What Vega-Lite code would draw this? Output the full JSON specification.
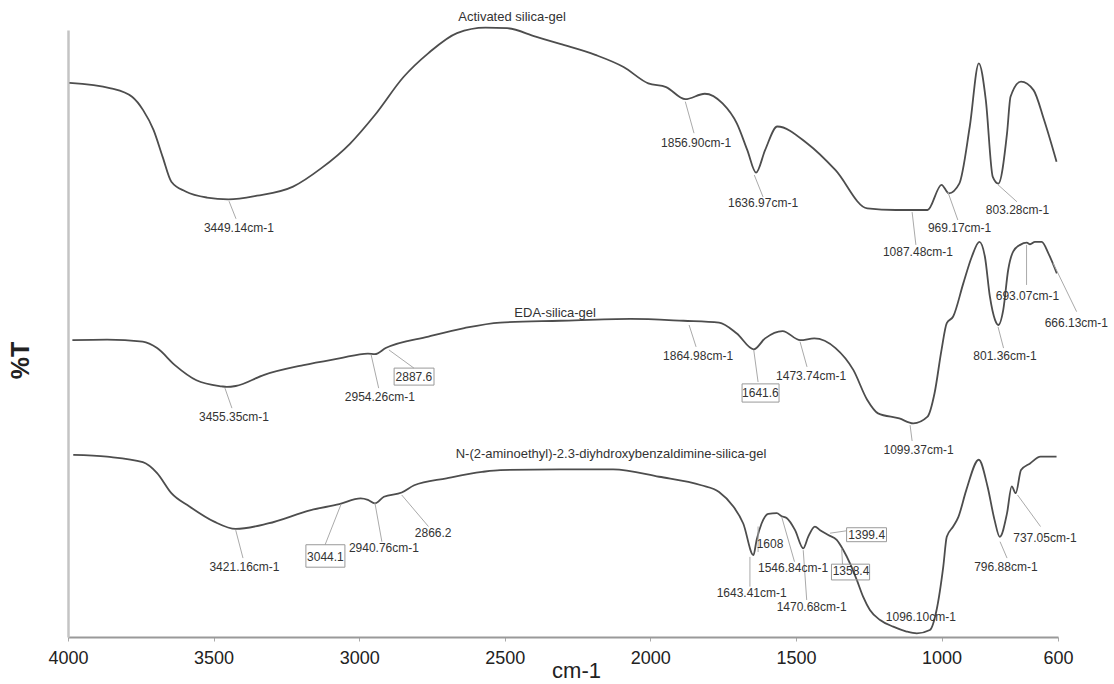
{
  "$schema": "https://vega.github.io/schema/vega-lite/v6.json",
  "width": 990,
  "height": 607,
  "autosize": "none",
  "padding": {"left": 68, "top": 30, "right": 56, "bottom": 47},
  "background": "white",
  "config": {"view": {"stroke": null}, "font": "Liberation Sans"},
  "datasets": {
    "spectra": [
      {"s":"a","wn":3995,"t":91.3},{"s":"a","wn":3853,"t":90.4},{"s":"a","wn":3780,"t":89.0},{"s":"a","wn":3742,"t":86.8},{"s":"a","wn":3706,"t":83.5},{"s":"a","wn":3675,"t":79.1},{"s":"a","wn":3645,"t":75.0},{"s":"a","wn":3596,"t":73.4},{"s":"a","wn":3523,"t":72.4},{"s":"a","wn":3449,"t":72.1},{"s":"a","wn":3351,"t":72.7},{"s":"a","wn":3227,"t":74.2},{"s":"a","wn":3131,"t":77.2},{"s":"a","wn":3031,"t":81.3},{"s":"a","wn":2946,"t":86.0},{"s":"a","wn":2847,"t":92.3},{"s":"a","wn":2762,"t":96.2},{"s":"a","wn":2664,"t":99.5},{"s":"a","wn":2566,"t":100.4},{"s":"a","wn":2492,"t":100.3},{"s":"a","wn":2394,"t":98.9},{"s":"a","wn":2310,"t":97.7},{"s":"a","wn":2189,"t":95.9},{"s":"a","wn":2092,"t":93.9},{"s":"a","wn":2007,"t":91.2},{"s":"a","wn":1946,"t":90.6},{"s":"a","wn":1880,"t":88.6},{"s":"a","wn":1813,"t":89.5},{"s":"a","wn":1752,"t":87.9},{"s":"a","wn":1703,"t":84.6},{"s":"a","wn":1667,"t":80.2},{"s":"a","wn":1637,"t":76.5},{"s":"a","wn":1606,"t":80.2},{"s":"a","wn":1564,"t":84.1},{"s":"a","wn":1461,"t":81.3},{"s":"a","wn":1364,"t":76.9},{"s":"a","wn":1255,"t":70.6},{"s":"a","wn":1157,"t":70.35},{"s":"a","wn":1048,"t":70.35},{"s":"a","wn":1000,"t":74.5},{"s":"a","wn":975,"t":73.1},{"s":"a","wn":939,"t":74.7},{"s":"a","wn":903,"t":84.1},{"s":"a","wn":872,"t":94.5},{"s":"a","wn":848,"t":88.5},{"s":"a","wn":824,"t":75.8},{"s":"a","wn":805,"t":74.7},{"s":"a","wn":775,"t":83.0},{"s":"a","wn":763,"t":89.0},{"s":"a","wn":727,"t":91.5},{"s":"a","wn":684,"t":90.1},{"s":"a","wn":648,"t":85.2},{"s":"a","wn":605,"t":78.3},
      {"s":"b","wn":3985,"t":48.9},{"s":"b","wn":3866,"t":49.0},{"s":"b","wn":3743,"t":48.65},{"s":"b","wn":3694,"t":47.6},{"s":"b","wn":3633,"t":44.8},{"s":"b","wn":3559,"t":42.3},{"s":"b","wn":3473,"t":41.3},{"s":"b","wn":3455,"t":41.2},{"s":"b","wn":3424,"t":41.35},{"s":"b","wn":3326,"t":43.2},{"s":"b","wn":3191,"t":44.8},{"s":"b","wn":3068,"t":45.9},{"s":"b","wn":2970,"t":46.7},{"s":"b","wn":2946,"t":46.6},{"s":"b","wn":2909,"t":47.6},{"s":"b","wn":2762,"t":49.5},{"s":"b","wn":2639,"t":50.9},{"s":"b","wn":2516,"t":51.8},{"s":"b","wn":2310,"t":52.1},{"s":"b","wn":2068,"t":52.4},{"s":"b","wn":1886,"t":52.1},{"s":"b","wn":1764,"t":51.8},{"s":"b","wn":1703,"t":50.0},{"s":"b","wn":1645,"t":47.4},{"s":"b","wn":1606,"t":49.2},{"s":"b","wn":1546,"t":50.4},{"s":"b","wn":1485,"t":48.9},{"s":"b","wn":1437,"t":49.2},{"s":"b","wn":1364,"t":47.6},{"s":"b","wn":1303,"t":44.0},{"s":"b","wn":1255,"t":39.05},{"s":"b","wn":1218,"t":36.85},{"s":"b","wn":1145,"t":36.0},{"s":"b","wn":1097,"t":35.2},{"s":"b","wn":1048,"t":36.3},{"s":"b","wn":1024,"t":40.15},{"s":"b","wn":1000,"t":47.3},{"s":"b","wn":982,"t":51.7},{"s":"b","wn":960,"t":52.8},{"s":"b","wn":925,"t":58.3},{"s":"b","wn":896,"t":62.65},{"s":"b","wn":870,"t":65.1},{"s":"b","wn":851,"t":62.65},{"s":"b","wn":834,"t":56.1},{"s":"b","wn":816,"t":52.2},{"s":"b","wn":805,"t":51.4},{"s":"b","wn":788,"t":53.9},{"s":"b","wn":771,"t":60.5},{"s":"b","wn":754,"t":63.5},{"s":"b","wn":730,"t":64.6},{"s":"b","wn":707,"t":64.96},{"s":"b","wn":696,"t":64.7},{"s":"b","wn":679,"t":65.1},{"s":"b","wn":656,"t":65.1},{"s":"b","wn":633,"t":63.2},{"s":"b","wn":604,"t":59.9},
      {"s":"c","wn":3982,"t":30.0},{"s":"c","wn":3866,"t":29.7},{"s":"c","wn":3743,"t":28.8},{"s":"c","wn":3694,"t":27.0},{"s":"c","wn":3645,"t":23.7},{"s":"c","wn":3583,"t":21.5},{"s":"c","wn":3498,"t":19.0},{"s":"c","wn":3424,"t":17.8},{"s":"c","wn":3313,"t":18.7},{"s":"c","wn":3166,"t":20.9},{"s":"c","wn":3068,"t":21.9},{"s":"c","wn":2995,"t":22.85},{"s":"c","wn":2970,"t":22.6},{"s":"c","wn":2946,"t":22.0},{"s":"c","wn":2915,"t":23.1},{"s":"c","wn":2854,"t":23.8},{"s":"c","wn":2811,"t":25.0},{"s":"c","wn":2700,"t":26.15},{"s":"c","wn":2578,"t":27.2},{"s":"c","wn":2516,"t":27.5},{"s":"c","wn":2310,"t":27.6},{"s":"c","wn":2128,"t":27.6},{"s":"c","wn":1970,"t":26.4},{"s":"c","wn":1825,"t":25.0},{"s":"c","wn":1764,"t":23.9},{"s":"c","wn":1715,"t":21.5},{"s":"c","wn":1681,"t":18.7},{"s":"c","wn":1646,"t":13.5},{"s":"c","wn":1635,"t":16.0},{"s":"c","wn":1618,"t":18.7},{"s":"c","wn":1595,"t":20.3},{"s":"c","wn":1566,"t":20.4},{"s":"c","wn":1549,"t":19.9},{"s":"c","wn":1532,"t":19.6},{"s":"c","wn":1503,"t":17.6},{"s":"c","wn":1475,"t":14.6},{"s":"c","wn":1458,"t":16.5},{"s":"c","wn":1435,"t":18.2},{"s":"c","wn":1417,"t":17.6},{"s":"c","wn":1389,"t":16.8},{"s":"c","wn":1360,"t":16.0},{"s":"c","wn":1337,"t":14.3},{"s":"c","wn":1314,"t":12.1},{"s":"c","wn":1291,"t":9.4},{"s":"c","wn":1269,"t":6.6},{"s":"c","wn":1246,"t":4.45},{"s":"c","wn":1211,"t":2.8},{"s":"c","wn":1166,"t":1.7},{"s":"c","wn":1120,"t":0.9},{"s":"c","wn":1085,"t":0.6},{"s":"c","wn":1040,"t":1.15},{"s":"c","wn":1017,"t":4.45},{"s":"c","wn":994,"t":11.6},{"s":"c","wn":982,"t":16.5},{"s":"c","wn":960,"t":18.2},{"s":"c","wn":942,"t":19.8},{"s":"c","wn":915,"t":24.2},{"s":"c","wn":872,"t":29.2},{"s":"c","wn":842,"t":24.8},{"s":"c","wn":818,"t":19.3},{"s":"c","wn":800,"t":16.5},{"s":"c","wn":775,"t":20.4},{"s":"c","wn":759,"t":24.8},{"s":"c","wn":745,"t":23.7},{"s":"c","wn":727,"t":27.5},{"s":"c","wn":696,"t":28.6},{"s":"c","wn":660,"t":29.7},{"s":"c","wn":605,"t":29.7}
    ],
    "leaders": [
      {"wn":3447,"t":71.8,"wn2":3423,"t2":68.9},
      {"wn":1880,"t":88.2,"wn2":1850,"t2":83.0},
      {"wn":1643,"t":76.1,"wn2":1613,"t2":72.5},
      {"wn":1101,"t":70.0,"wn2":1088,"t2":64.6},
      {"wn":978,"t":73.3,"wn2":944,"t2":68.7},
      {"wn":806,"t":74.5,"wn2":741,"t2":71.7},
      {"wn":3461,"t":41.0,"wn2":3437,"t2":37.7},
      {"wn":2959,"t":46.5,"wn2":2933,"t2":41.0},
      {"wn":2898,"t":47.3,"wn2":2812,"t2":44.3},
      {"wn":1867,"t":51.4,"wn2":1843,"t2":47.8},
      {"wn":1645,"t":47.3,"wn2":1630,"t2":42.0},
      {"wn":1486,"t":48.65,"wn2":1462,"t2":44.5},
      {"wn":1108,"t":34.9,"wn2":1101,"t2":32.3},
      {"wn":806,"t":51.1,"wn2":787,"t2":47.6},
      {"wn":708,"t":64.6,"wn2":708,"t2":58.0},
      {"wn":617,"t":61.6,"wn2":536,"t2":53.6},
      {"wn":3424,"t":17.6,"wn2":3399,"t2":13.0},
      {"wn":3062,"t":21.9,"wn2":3117,"t2":15.2},
      {"wn":2946,"t":22.1,"wn2":2922,"t2":15.7},
      {"wn":2854,"t":23.4,"wn2":2762,"t2":18.2},
      {"wn":1658,"t":13.2,"wn2":1658,"t2":8.3},
      {"wn":1630,"t":18.2,"wn2":1630,"t2":14.0},
      {"wn":1549,"t":19.8,"wn2":1505,"t2":12.4},
      {"wn":1475,"t":14.3,"wn2":1463,"t2":6.1},
      {"wn":1383,"t":17.1,"wn2":1326,"t2":17.5},
      {"wn":1343,"t":14.6,"wn2":1340,"t2":12.0},
      {"wn":799,"t":15.7,"wn2":775,"t2":13.0},
      {"wn":739,"t":23.4,"wn2":660,"t2":18.2}
    ],
    "boxes": [
      {"wn":2880,"t":44.3,"wn2":2743,"t2":41.5},
      {"wn":1685,"t":41.7,"wn2":1558,"t2":38.7},
      {"wn":3183,"t":15.2,"wn2":3049,"t2":11.5},
      {"wn":1326,"t":18.0,"wn2":1189,"t2":15.7},
      {"wn":1378,"t":12.0,"wn2":1247,"t2":9.4}
    ],
    "labels": [
      {"wn":3413,"t":67.4,"label":"3449.14cm-1"},
      {"wn":1843,"t":81.4,"label":"1856.90cm-1"},
      {"wn":1613,"t":71.5,"label":"1636.97cm-1"},
      {"wn":1081,"t":63.4,"label":"1087.48cm-1"},
      {"wn":938,"t":67.4,"label":"969.17cm-1"},
      {"wn":739,"t":70.35,"label":"803.28cm-1"},
      {"wn":3430,"t":36.2,"label":"3455.35cm-1"},
      {"wn":2929,"t":39.6,"label":"2954.26cm-1"},
      {"wn":2812,"t":42.9,"label":"2887.6"},
      {"wn":1836,"t":46.3,"label":"1864.98cm-1"},
      {"wn":1622,"t":40.2,"label":"1641.6"},
      {"wn":1448,"t":43.0,"label":"1473.74cm-1"},
      {"wn":1079,"t":30.8,"label":"1099.37cm-1"},
      {"wn":782,"t":46.3,"label":"801.36cm-1"},
      {"wn":705,"t":56.1,"label":"693.07cm-1"},
      {"wn":537,"t":51.7,"label":"666.13cm-1"},
      {"wn":3394,"t":11.6,"label":"3421.16cm-1"},
      {"wn":3116,"t":13.2,"label":"3044.1"},
      {"wn":2915,"t":14.7,"label":"2940.76cm-1"},
      {"wn":2746,"t":17.1,"label":"2866.2"},
      {"wn":1652,"t":7.2,"label":"1643.41cm-1"},
      {"wn":1589,"t":15.4,"label":"1608"},
      {"wn":1510,"t":11.3,"label":"1546.84cm-1"},
      {"wn":1446,"t":5.0,"label":"1470.68cm-1"},
      {"wn":1257,"t":16.8,"label":"1399.4"},
      {"wn":1311,"t":10.8,"label":"1358.4"},
      {"wn":1071,"t":3.3,"label":"1096.10cm-1"},
      {"wn":779,"t":11.6,"label":"796.88cm-1"},
      {"wn":645,"t":16.3,"label":"737.05cm-1"}
    ],
    "titles": [
      {"wn":2475,"t":102.1,"label":"Activated silica-gel"},
      {"wn":2327,"t":53.4,"label":"EDA-silica-gel"},
      {"wn":2135,"t":30.15,"label":"N-(2-aminoethyl)-2.3-diyhdroxybenzaldimine-silica-gel"}
    ]
  },
  "encoding": {
    "x": {
      "field": "wn", "type": "quantitative",
      "scale": {"domain": [600, 4000], "reverse": true, "nice": false, "zero": false},
      "axis": {
        "values": [4000, 3500, 3000, 2500, 2000, 1500, 1000, 600],
        "format": "d", "grid": false,
        "title": "cm-1", "titleFontSize": 22, "titleFontWeight": "normal", "titleColor": "#222",
        "titleX": 508, "titleY": 40, "titleBaseline": "alphabetic",
        "labelFontSize": 18, "labelColor": "#222", "labelPadding": 8, "labelFlush": false, "labelOverlap": false,
        "tickSize": 4, "tickColor": "#aaa", "domainColor": "#999", "domainWidth": 2
      }
    },
    "y": {
      "field": "t", "type": "quantitative",
      "scale": {"domain": [0, 100], "nice": false, "zero": false},
      "axis": {
        "title": "%T", "labels": false, "ticks": false, "grid": false,
        "domainColor": "#c4c4c4", "domainWidth": 2.5,
        "titleFontSize": 25, "titleFontWeight": "bold", "titleColor": "#222",
        "titleX": -48, "titleY": 330, "titleBaseline": "middle", "titleAlign": "center"
      }
    }
  },
  "layer": [
    {
      "data": {"name": "spectra"},
      "mark": {"type": "line", "interpolate": "monotone", "color": "#4d4d4d", "strokeWidth": 1.8},
      "encoding": {"detail": {"field": "s"}}
    },
    {
      "data": {"name": "leaders"},
      "mark": {"type": "rule", "color": "#aaaaaa", "strokeWidth": 1},
      "encoding": {"x2": {"field": "wn2"}, "y2": {"field": "t2"}}
    },
    {
      "data": {"name": "boxes"},
      "mark": {"type": "rect", "fill": "transparent", "stroke": "#999999", "strokeWidth": 1},
      "encoding": {"x2": {"field": "wn2"}, "y2": {"field": "t2"}}
    },
    {
      "data": {"name": "labels"},
      "mark": {"type": "text", "fontSize": 12, "color": "#333333", "align": "center", "baseline": "middle"},
      "encoding": {"text": {"field": "label"}}
    },
    {
      "data": {"name": "titles"},
      "mark": {"type": "text", "fontSize": 13, "color": "#333333", "align": "center", "baseline": "middle"},
      "encoding": {"text": {"field": "label"}}
    }
  ]
}
